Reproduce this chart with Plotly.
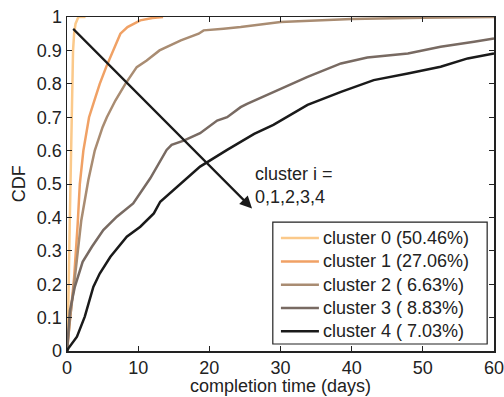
import plotly.graph_objects as go

names = ["cluster 0 (50.46%)", "cluster 1 (27.06%)", "cluster 2 ( 6.63%)",
         "cluster 3 ( 8.83%)", "cluster 4 ( 7.03%)"]
colors = ["#FBC98A", "#F0A165", "#A98C72", "#786A62", "#1A1A1A"]

c0_x = [0, 0.2, 0.4, 0.55, 0.7, 0.85, 1.0, 1.2, 1.6, 2.6]
c0_y = [0, 0.15, 0.4, 0.6, 0.8, 0.9, 0.95, 0.98, 1.0, 1.0]

c1_x = [0, 0.5, 1.0, 1.5, 1.8, 2.3, 3.1, 4.0, 4.6, 5.5, 6.5, 7.5, 8.5, 10.3, 12, 13.5]
c1_y = [0, 0.1, 0.22, 0.38, 0.5, 0.6, 0.7, 0.76, 0.8, 0.85, 0.9, 0.95, 0.97, 0.99, 0.997, 1.0]

c2_x = [0, 0.4, 1.0, 1.5, 2.0, 3.0, 3.9, 5.0, 5.6, 6.8, 8.2, 9.8, 11.2, 13, 16, 18.5, 19.2, 22, 24.4, 30, 40, 50, 60]
c2_y = [0, 0.093, 0.2, 0.3, 0.39, 0.512, 0.6, 0.67, 0.7, 0.75, 0.8, 0.85, 0.87, 0.9, 0.93, 0.95, 0.96, 0.965, 0.97, 0.985, 0.994, 0.998, 1.0]

c3_x = [0, 0.4, 1.1, 2.2, 3.5, 5.1, 7.0, 9.3, 11.7, 14.0, 14.7, 16.4, 18.7, 21.1, 22.5, 24.4, 25.3, 29, 33.8, 38.5, 42.2, 47.9, 52.5, 57.2, 60]
c3_y = [0, 0.12, 0.192, 0.267, 0.312, 0.362, 0.402, 0.442, 0.517, 0.602, 0.617, 0.63, 0.652, 0.69, 0.70, 0.73, 0.74, 0.776, 0.821, 0.861, 0.879, 0.891, 0.911, 0.926, 0.936]

c4_x = [0, 0.2, 1.4, 2.5, 3.7, 4.6, 6.1, 8.4, 10.3, 12.2, 13.1, 15.5, 18.7, 22.5, 24.4, 26.3, 29, 33.8, 38.5, 43.1, 47.9, 52.5, 56.3, 60]
c4_y = [0, 0.008, 0.043, 0.103, 0.192, 0.232, 0.282, 0.342, 0.372, 0.412, 0.447, 0.492, 0.552, 0.602, 0.627, 0.65, 0.677, 0.737, 0.776, 0.811, 0.831, 0.851, 0.876, 0.891]

series_x = [c0_x, c1_x, c2_x, c3_x, c4_x]
series_y = [c0_y, c1_y, c2_y, c3_y, c4_y]

x_ticks = [0, 10, 20, 30, 40, 50, 60]
y_ticks = [0, 0.1, 0.2, 0.3, 0.4, 0.5, 0.6, 0.7, 0.8, 0.9, 1]
y_ticklabels = ["0", "0.1", "0.2", "0.3", "0.4", "0.5", "0.6", "0.7", "0.8", "0.9", "1"]

arrow_start = (0.66, 0.969)
arrow_end = (26.0, 0.427)

font = "Liberation Sans, Arial, sans-serif"
FS = 18
txt = "#222"

fig = go.Figure()
for n, c, xs, ys in zip(names, colors, series_x, series_y):
    fig.add_trace(go.Scatter(x=xs, y=ys, mode="lines", name=n, showlegend=False,
                             line=dict(color=c, width=2.5)))

# legend box (paper coords)
lg_x0, lg_x1, lg_y0, lg_y1 = 0.482, 0.984, 0.021, 0.386
row_top = 0.338
row_step = 0.0698
fig.add_shape(type="rect", xref="paper", yref="paper", x0=lg_x0, x1=lg_x1, y0=lg_y0, y1=lg_y1,
              line=dict(color=txt, width=1.2), fillcolor="white", layer="above")
for i, (n, c) in enumerate(zip(names, colors)):
    yy = row_top - i * row_step
    fig.add_shape(type="line", xref="paper", yref="paper", x0=0.501, x1=0.590, y0=yy, y1=yy,
                  line=dict(color=c, width=2.5), layer="above")
    fig.add_annotation(x=0.598, y=yy, xref="paper", yref="paper", xanchor="left", yanchor="middle",
                       text=n, showarrow=False, font=dict(size=FS, color=txt, family=font),
                       borderpad=0)

fig.add_annotation(x=arrow_end[0], y=arrow_end[1], ax=arrow_start[0], ay=arrow_start[1],
                   xref="x", yref="y", axref="x", ayref="y", text="",
                   showarrow=True, arrowhead=2, arrowsize=1.1, arrowwidth=2.2,
                   arrowcolor="#1a1a1a", standoff=0, startstandoff=0)
fig.add_annotation(x=26.2, y=0.495, xref="x", yref="y", xanchor="left", yanchor="middle",
                   text="cluster i =<br>0,1,2,3,4", showarrow=False, align="left",
                   font=dict(size=FS, color=txt, family=font))

# axis titles
fig.add_annotation(x=0.5, y=-0.106, xref="paper", yref="paper", xanchor="center", yanchor="middle",
                   text="completion time (days)", showarrow=False,
                   font=dict(size=FS, color=txt, family=font))
fig.add_annotation(x=-0.112, y=0.5, xref="paper", yref="paper", xanchor="center", yanchor="middle",
                   text="CDF", textangle=-90, showarrow=False,
                   font=dict(size=FS, color=txt, family=font))

axis_common = dict(showline=True, linecolor=txt, linewidth=1.5, mirror="ticks",
                   ticks="inside", ticklen=5, tickcolor=txt, tickwidth=1,
                   showgrid=False, zeroline=False, automargin=False,
                   ticklabeloverflow="allow",
                   tickfont=dict(size=FS, color=txt, family=font))

fig.update_xaxes(range=[0, 60], tickvals=x_ticks, **axis_common)
fig.update_yaxes(range=[0, 1], tickvals=y_ticks, ticktext=y_ticklabels, **axis_common)

fig.update_layout(
    width=504, height=397, autosize=False,
    margin=dict(l=67, r=10, t=17, b=46),
    plot_bgcolor="white", paper_bgcolor="white",
    font=dict(family=font, size=FS, color=txt),
    showlegend=False,
)

fig.write_html("out.html",
               config={"responsive": False, "displayModeBar": False, "staticPlot": True},
               post_script="document.body.style.margin='0';document.body.style.overflow='hidden';")
